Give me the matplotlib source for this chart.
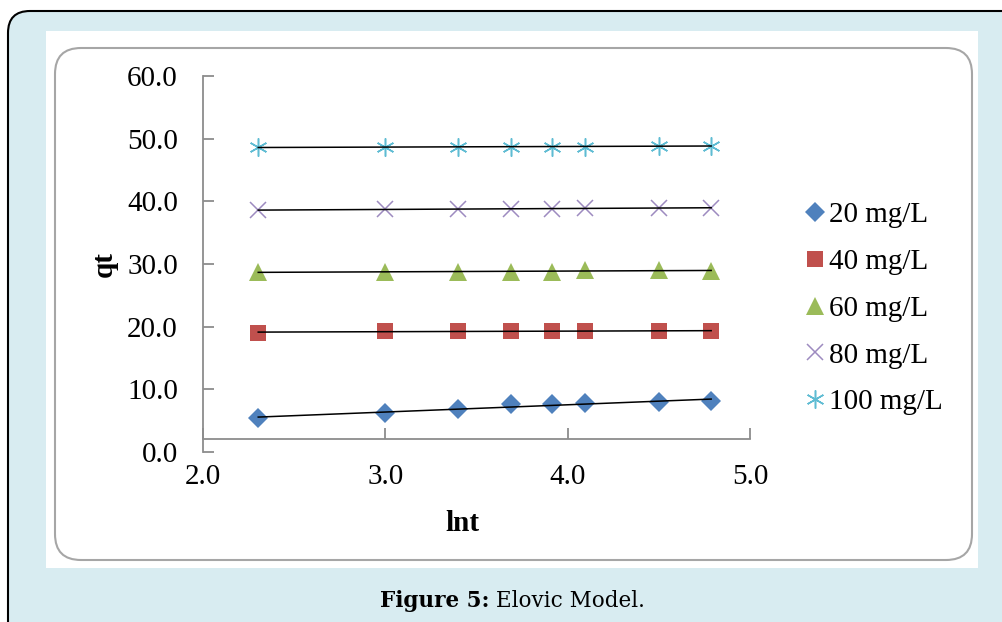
import numpy as np
import matplotlib
matplotlib.use("Agg")
import matplotlib.pyplot as plt
from matplotlib.patches import FancyBboxPatch, Rectangle
from matplotlib.transforms import IdentityTransform

# ---- data ----
lnt = [2.303, 2.996, 3.401, 3.689, 3.912, 4.094, 4.500, 4.787]
q20 = [5.4, 6.2, 6.9, 7.6, 7.6, 7.8, 7.9, 8.2]
q40 = [19.0, 19.3, 19.3, 19.3, 19.3, 19.3, 19.3, 19.3]
q60 = [28.7, 28.7, 28.8, 28.8, 28.8, 29.0, 29.0, 28.9]
q80 = [38.6, 38.7, 38.8, 38.8, 38.8, 38.9, 38.9, 39.0]
q100 = [48.6, 48.7, 48.7, 48.7, 48.7, 48.7, 48.8, 48.9]
labels = ["20 mg/L", "40 mg/L", "60 mg/L", "80 mg/L", "100 mg/L"]
yticks = [0, 10, 20, 30, 40, 50, 60]
xticks = [2.0, 3.0, 4.0, 5.0]

serif = ["Liberation Serif", "DejaVu Serif"]
plt.rcParams["font.family"] = serif

W, H = 1002, 622
fig = plt.figure(figsize=(W / 100, H / 100), dpi=100)
fig.patch.set_facecolor("white")

ident = IdentityTransform()
outer = FancyBboxPatch((8, -60), 1100, H - 11 + 60,
                       boxstyle="round,pad=0,rounding_size=22",
                       transform=ident, facecolor="#d8ecf1",
                       edgecolor="black", linewidth=1.5, zorder=0)
fig.patches.append(outer)
white = Rectangle((46, H - 568), 932, 537, transform=ident,
                  facecolor="white", edgecolor="none", zorder=0.1)
fig.patches.append(white)
inner = FancyBboxPatch((55, H - 560), 917, 512,
                       boxstyle="round,pad=0,rounding_size=26",
                       transform=ident, facecolor="white",
                       edgecolor="#a6a6a6", linewidth=1.5, zorder=0.2)
fig.patches.append(inner)

fs = 21

ax = fig.add_axes([203 / W, 1 - 452 / H, 547 / W, 376 / H])
ax.set_zorder(5)
ax.set_facecolor("none")
ax.set_xlim(2.0, 5.0)
ax.set_ylim(0, 60)

styles = [
    dict(marker="D", color="#4f81bd", ms=10.5, mew=0),
    dict(marker="s", color="#c0504d", ms=12, mew=0),
    dict(marker="^", color="#9bbb59", ms=13.5, mew=0),
    dict(marker="x", color="#9d8bc0", ms=11.5, mew=1.1),
    dict(marker=(6, 2, 0), color="#5fbcd3", ms=13, mew=1.1),
]
series = [q20, q40, q60, q80, q100]
handles = []
for ys, st, lab in zip(series, styles, labels):
    h, = ax.plot(lnt, ys, linestyle="none", marker=st["marker"],
                 markersize=st["ms"], markerfacecolor=st["color"],
                 markeredgecolor=st["color"], markeredgewidth=st["mew"],
                 label=lab, zorder=3, clip_on=False)
    handles.append(h)
    k, b = np.polyfit(lnt, ys, 1)
    xx = np.array([lnt[0], lnt[-1]])
    ax.plot(xx, k * xx + b, color="black", linewidth=1.1, zorder=4)

for s in ["top", "right"]:
    ax.spines[s].set_visible(False)
ax.spines["bottom"].set_position(("data", 2.0))
for s in ["left", "bottom"]:
    ax.spines[s].set_color("#8c8c8c")
    ax.spines[s].set_linewidth(1.3)

ax.set_yticks(yticks)
ax.set_yticklabels([f"{v:.1f}" for v in yticks])
ax.set_xticks(xticks)
ax.set_xticklabels([f"{v:.1f}" for v in xticks])
ax.tick_params(axis="both", direction="in", length=8, width=1.3,
               color="#8c8c8c", labelsize=fs, pad=18)

ax.set_ylabel("qt", fontsize=fs, fontweight="bold")
ax.yaxis.set_label_coords(-0.155, 0.5)
ax.set_xlabel("lnt", fontsize=fs, fontweight="bold")
ax.xaxis.set_label_coords(0.475, -0.155)

leg = fig.legend(handles=handles, loc="center left",
                 bbox_to_anchor=(803 / W, 1 - 308.5 / H),
                 frameon=False, prop={"size": fs},
                 handlelength=0.8, handletextpad=0.1, labelspacing=0.70,
                 borderpad=0, borderaxespad=0, numpoints=1)
leg.set_zorder(6)

renderer = fig.canvas.get_renderer()
t1 = fig.text(380 / W, 1 - 601 / H, "Figure 5:", fontsize=15.5,
              fontweight="bold", family=["DejaVu Serif"], va="center",
              ha="left")
bb = t1.get_window_extent(renderer)
fig.text((bb.x1 + 6) / W, 1 - 601 / H, "Elovic Model.", fontsize=15.5,
         family=["DejaVu Serif"], va="center", ha="left")

fig.savefig("out.png", dpi=100)
